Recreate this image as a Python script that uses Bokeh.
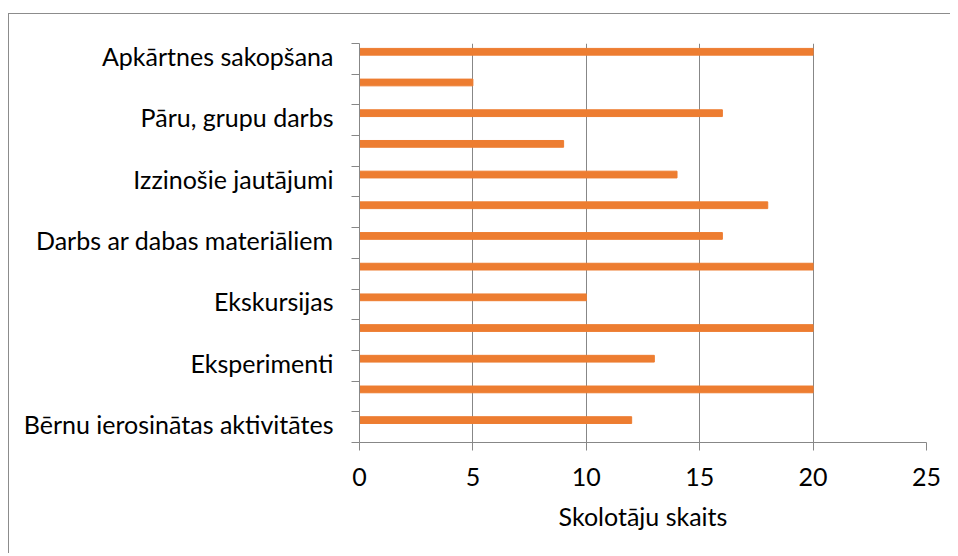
from bokeh.plotting import figure
from bokeh.models import Range1d, FixedTicker
from bokeh.embed import file_html
from bokeh.resources import INLINE

# Data (top to bottom as displayed)
labels = ["Apkārtnes sakopšana", "", "Pāru, grupu darbs", "", "Izzinošie jautājumi", "",
          "Darbs ar dabas materiāliem", "", "Ekskursijas", "", "Eksperimenti", "",
          "Bērnu ierosinātas aktivitātes"]
values = [20, 5, 16, 9, 14, 18, 16, 20, 10, 20, 13, 20, 12]
x_ticks = [0, 5, 10, 15, 20, 25]
x_title = "Skolotāju skaits"

n = len(values)
pos = list(range(n))
bar_y = [i + 0.27 for i in pos]

FONT = "Lato"
GRID = "#878787"
FS = "25px"

p = figure(width=942, height=540, output_backend="svg", toolbar_location=None,
           x_range=Range1d(0, 25), y_range=Range1d(n, 0),
           min_border_left=350, min_border_right=25, min_border_top=29, min_border_bottom=112)
p.margin = (13, 0, 0, 8)
p.styles = {"border-top": "1.5px solid #8c8c8c", "border-left": "1.5px solid #8c8c8c"}
p.outline_line_color = None
p.background_fill_color = "white"

p.hbar(y=bar_y, right=values, left=0, height=0.22, color="#ED7D31")

# x axis
xa = p.xaxis[0]
xa.ticker = FixedTicker(ticks=x_ticks)
xa.axis_line_color = GRID
xa.major_tick_line_color = GRID
xa.major_tick_out = 8
xa.major_tick_in = 0
xa.minor_tick_line_color = None
xa.major_label_text_font = FONT
xa.major_label_text_font_size = FS
xa.major_label_text_color = "black"
xa.major_label_standoff = 17
xa.axis_label = x_title
xa.axis_label_text_font = FONT
xa.axis_label_text_font_size = FS
xa.axis_label_text_font_style = "normal"
xa.axis_label_text_color = "black"
xa.axis_label_standoff = 12

# y axis: labels at band centres, tick marks at band boundaries
ya = p.yaxis[0]
label_pos = [i + 0.4 for i in pos if labels[i]]
ya.ticker = FixedTicker(ticks=label_pos, minor_ticks=list(range(n + 1)))
ya.major_label_overrides = {i + 0.4: labels[i] for i in pos if labels[i]}
ya.axis_line_color = GRID
ya.major_tick_line_color = None
ya.major_tick_out = 0
ya.major_tick_in = 0
ya.minor_tick_line_color = GRID
ya.minor_tick_out = 8
ya.minor_tick_in = 0
ya.major_label_text_font = FONT
ya.major_label_text_font_size = FS
ya.major_label_text_color = "black"
ya.major_label_standoff = 18

p.xgrid.ticker = FixedTicker(ticks=x_ticks)
p.xgrid.grid_line_color = GRID
p.ygrid.grid_line_color = None

open("out.html", "w").write(file_html(p, INLINE))
